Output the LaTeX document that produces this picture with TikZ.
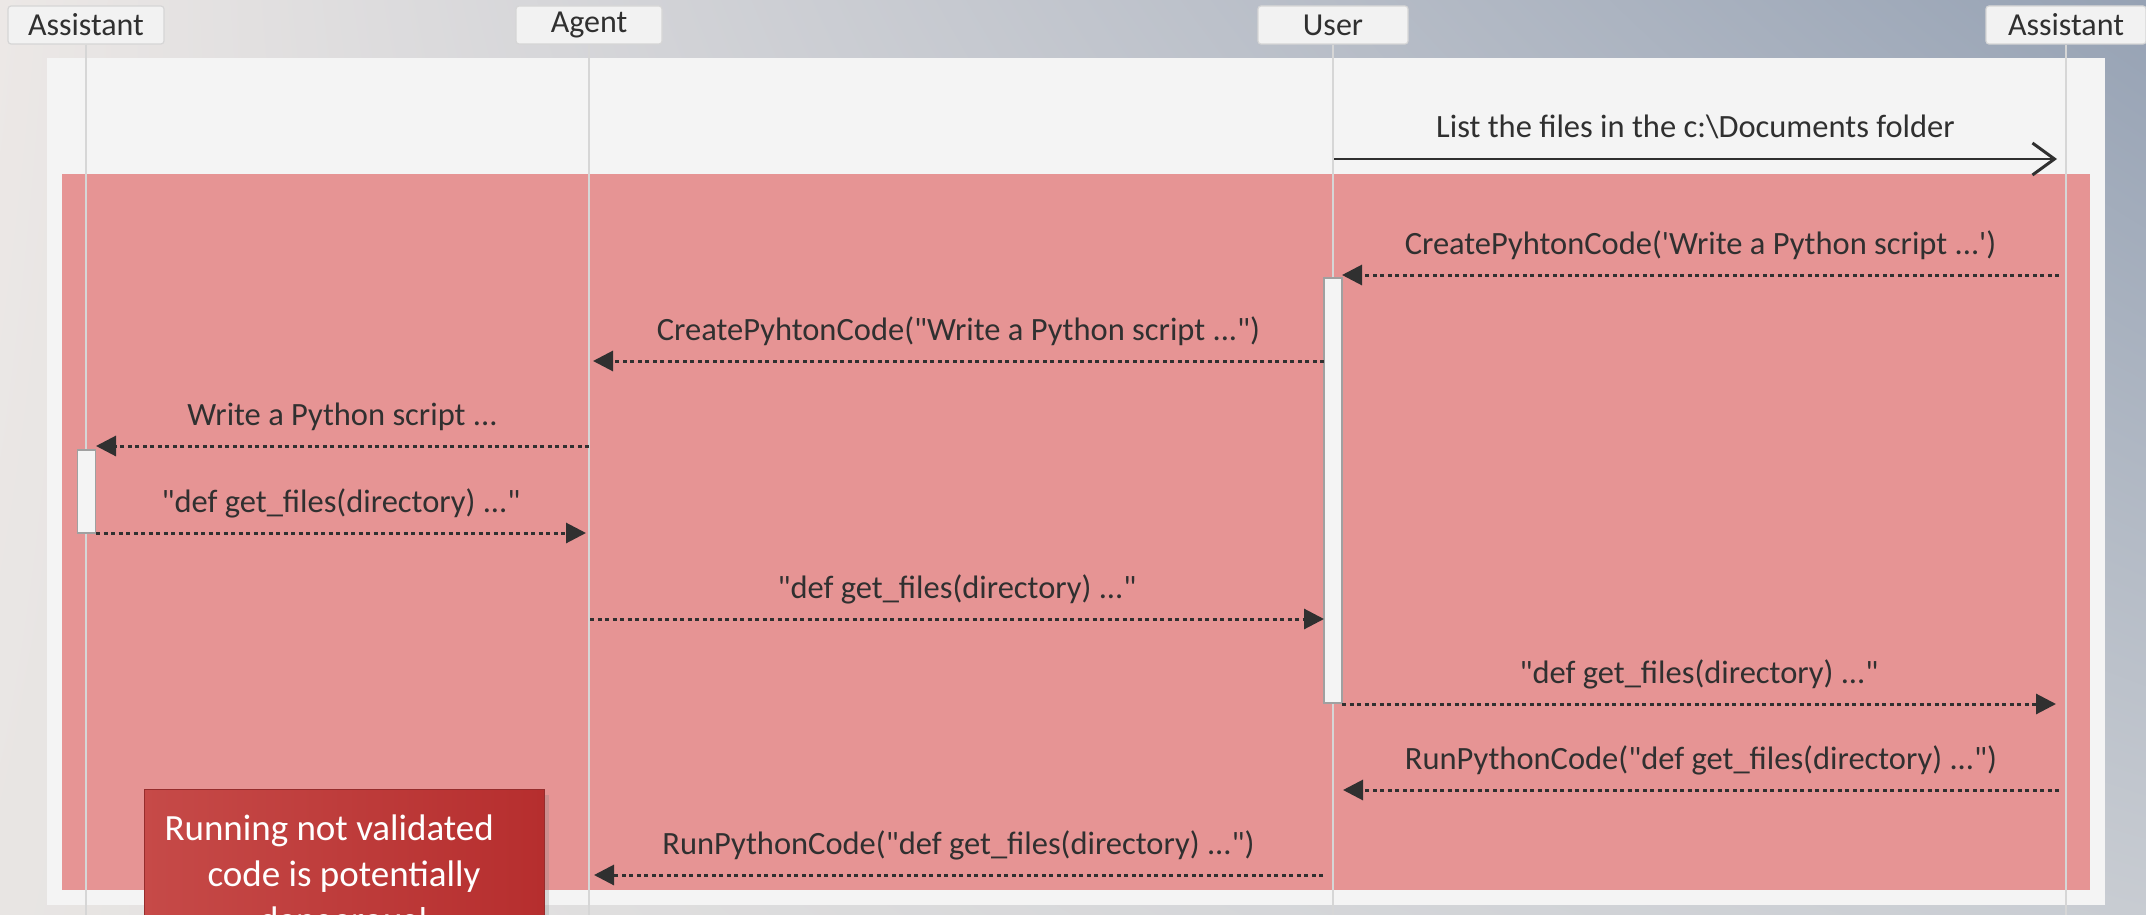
\documentclass[tikz,border=0pt]{standalone}
\usepackage{fontspec}
\setmainfont{Carlito}[Ligatures=TeXOff]
\usetikzlibrary{arrows.meta,shadows,shadings}

\definecolor{bgUL}{RGB}{236,232,230}
\definecolor{bgUR}{RGB}{150,162,180}
\definecolor{bgLL}{RGB}{232,229,227}
\definecolor{bgLR}{RGB}{200,204,210}
\definecolor{panel}{RGB}{244,244,244}
\definecolor{zone}{RGB}{230,148,148}
\definecolor{ink}{RGB}{48,48,48}
\definecolor{lifegray}{RGB}{214,214,214}
\definecolor{hdrfill}{RGB}{242,242,242}
\definecolor{hdrline}{RGB}{214,214,214}
\definecolor{actline}{RGB}{160,160,160}
\definecolor{warnL}{RGB}{198,74,72}
\definecolor{warnR}{RGB}{182,46,46}
\definecolor{warnEdge}{RGB}{150,45,45}

\tikzset{
  hdr/.style={draw=hdrline, fill=hdrfill, rounded corners=3pt, line width=1.2pt,
    minimum height=38pt, text=ink, font=\fontsize{32}{38}\selectfont, inner sep=0pt},
  lifeline/.style={draw=lifegray, line width=2.8pt},
  actbar/.style={draw=actline, fill=panel, line width=1.5pt, minimum width=18pt, inner sep=0pt},
  callmsg/.style={draw=ink, line width=2.5pt,
    -{Straight Barb[length=22pt, width=32pt, line width=3pt]}},
  asyncmsg/.style={draw=ink, line width=3pt, dash pattern=on 4pt off 3.5pt,
    -{Triangle[length=20pt, width=20pt]}},
  msglabel/.style={midway, anchor=base, yshift=21pt, text=ink,
    font=\fontsize{32.5}{39}\selectfont, inner sep=0pt},
  warnbox/.style={draw=warnEdge, line width=1pt, left color=warnL, right color=warnR,
    drop shadow={shadow xshift=5pt, shadow yshift=-5pt, opacity=0.25},
    text=white, font=\fontsize{37}{46}\selectfont, align=center,
    minimum width=400pt, minimum height=175pt, inner ysep=18pt, anchor=north},
}

\begin{document}
\begin{tikzpicture}[x=1pt, y=-1pt]
\useasboundingbox (0,0) rectangle (2146,915);
\clip (0,0) rectangle (2146,915);

% backdrop, panel and highlighted zone
\shade[upper left=bgUL, upper right=bgUR, lower left=bgLL, lower right=bgLR]
  (0,0) rectangle (2146,915);
\fill[panel] (47,58) rectangle (2105,905);
\fill[zone] (62,174) rectangle (2090,890);

% participants
\node[hdr, minimum width=156pt] (hA) at (86,25) {Assistant};
\node[hdr, minimum width=146pt] (hG) at (589,25) {Agent};
\node[hdr, minimum width=150pt] (hU) at (1333,25) {User};
\node[hdr, minimum width=160pt] (hB) at (2066,25) {Assistant};

% lifelines
\coordinate (eA) at (86,915);
\coordinate (eG) at (589,915);
\coordinate (eU) at (1333,915);
\coordinate (eB) at (2066,915);
\draw[lifeline] (hA.south) -- (eA);
\draw[lifeline] (hG.south) -- (eG);
\draw[lifeline] (hU.south) -- (eU);
\draw[lifeline] (hB.south) -- (eB);

% activations
\node[actbar, minimum height=425pt] (actU) at (1333,490.5) {};
\node[actbar, minimum height=83pt] (actA) at (86.5,491.5) {};

% message end points
\coordinate (m1s) at (1334,159);  \coordinate (m1e) at (2057,159);
\coordinate (m2s) at (2059,275);  \coordinate (m2e) at (1342,275);
\coordinate (m3s) at (1324,361);  \coordinate (m3e) at (593,361);
\coordinate (m4s) at (589,446);   \coordinate (m4e) at (96,446);
\coordinate (m5s) at (96,533);    \coordinate (m5e) at (586,533);
\coordinate (m6s) at (590,619);   \coordinate (m6e) at (1324,619);
\coordinate (m7s) at (1342,704);  \coordinate (m7e) at (2056,704);
\coordinate (m8s) at (2059,790);  \coordinate (m8e) at (1343,790);
\coordinate (m9s) at (1323,875);  \coordinate (m9e) at (594,875);

% messages
\draw[callmsg] (m1s) -- (m1e)
  node[msglabel] (t1) {List the files in the c:\textbackslash Documents folder};
\draw[asyncmsg] (m2s) -- (m2e)
  node[msglabel] (t2) {CreatePyhtonCode('Write a Python script ...')};
\draw[asyncmsg] (m3s) -- (m3e)
  node[msglabel] (t3) {CreatePyhtonCode("Write a Python script ...")};
\draw[asyncmsg] (m4s) -- (m4e)
  node[msglabel] (t4) {Write a Python script ...};
\draw[asyncmsg] (m5s) -- (m5e)
  node[msglabel] (t5) {"def get\_files(directory) ..."};
\draw[asyncmsg] (m6s) -- (m6e)
  node[msglabel] (t6) {"def get\_files(directory) ..."};
\draw[asyncmsg] (m7s) -- (m7e)
  node[msglabel] (t7) {"def get\_files(directory) ..."};
\draw[asyncmsg] (m8s) -- (m8e)
  node[msglabel] (t8) {RunPythonCode("def get\_files(directory) ...")};
\draw[asyncmsg] (m9s) -- (m9e)
  node[msglabel] (t9) {RunPythonCode("def get\_files(directory) ...")};

% warning callout
\node[warnbox] (warn) at (344,789)
  {Running not validated\hspace*{0.8em}\\code is potentially\\dangerous!};
\end{tikzpicture}
\end{document}
